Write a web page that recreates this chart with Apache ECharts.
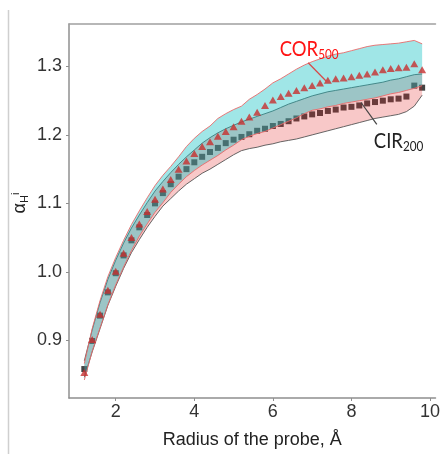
<!DOCTYPE html>
<html><head><meta charset="utf-8">
<script src="https://cdn.jsdelivr.net/npm/echarts@6/dist/echarts.min.js"></script>
<style>html,body{margin:0;padding:0;background:#fff}#c{width:443px;height:454px}</style>
</head><body><div id="c"></div>
<script>
const xs=[1.2,1.4,1.6,1.8,2.0,2.2,2.4,2.6,2.8,3.0,3.2,3.4,3.6,3.8,4.0,4.2,4.4,4.6,4.8,5.0,5.2,5.4,5.6,5.8,6.0,6.2,6.4,6.6,6.8,7.0,7.2,7.4,7.6,7.8,8.0,8.2,8.4,8.6,8.8,9.0,9.2,9.4,9.6,9.8];
const corMean=[0.853,0.901,0.938,0.973,1.001,1.027,1.050,1.070,1.088,1.106,
1.121,1.135,1.150,1.162,1.173,1.183,1.190,1.198,1.205,1.212,
1.220,1.226,1.233,1.243,1.251,1.256,1.261,1.265,1.269,1.272,
1.276,1.280,1.282,1.283,1.285,1.287,1.289,1.292,1.295,1.297,
1.298,1.299,1.304,1.295];
const cirMean=[0.858,0.899,0.936,0.970,0.998,1.024,1.046,1.065,1.083,1.100,
1.115,1.128,1.139,1.150,1.160,1.168,1.175,1.181,1.188,1.193,
1.197,1.201,1.206,1.209,1.213,1.216,1.220,1.224,1.227,1.230,
1.232,1.235,1.237,1.240,1.241,1.243,1.246,1.248,1.250,1.252,
1.253,1.256,1.272,1.269];
const corUpper=[0.866,0.917,0.958,0.993,1.021,1.046,1.069,1.089,1.108,1.126,
1.141,1.154,1.168,1.183,1.195,1.205,1.213,1.224,1.231,1.237,
1.242,1.252,1.259,1.267,1.276,1.282,1.289,1.296,1.302,1.307,
1.311,1.315,1.318,1.320,1.323,1.326,1.329,1.331,1.332,1.333,
1.334,1.336,1.338,1.333];
const corLower=[0.842,0.884,0.918,0.952,0.981,1.007,1.031,1.052,1.070,1.087,
1.101,1.116,1.128,1.139,1.148,1.156,1.163,1.170,1.178,1.185,
1.193,1.198,1.202,1.205,1.210,1.215,1.220,1.225,1.231,1.236,
1.238,1.241,1.243,1.246,1.248,1.250,1.252,1.254,1.257,1.260,
1.262,1.265,1.268,1.272];
const cirUpper=[0.870,0.915,0.955,0.989,1.017,1.042,1.064,1.083,1.101,1.118,
1.132,1.145,1.157,1.168,1.178,1.188,1.196,1.203,1.209,1.214,
1.219,1.223,1.227,1.231,1.235,1.240,1.245,1.249,1.253,1.257,
1.260,1.263,1.265,1.267,1.269,1.271,1.273,1.275,1.277,1.280,
1.282,1.285,1.288,1.289];
const cirLower=[0.846,0.883,0.917,0.951,0.979,1.005,1.028,1.047,1.065,1.081,
1.096,1.107,1.118,1.128,1.136,1.144,1.150,1.157,1.164,1.171,
1.177,1.180,1.182,1.185,1.187,1.190,1.192,1.194,1.197,1.200,
1.203,1.206,1.209,1.212,1.215,1.218,1.221,1.224,1.226,1.228,
1.230,1.234,1.242,1.258];
const xTicks=[2,4,6,8,10];
const yTicks=[0.9,1.0,1.1,1.2,1.3];
const xTitle='Radius of the probe, Å';
const corNote={main:'COR',sub:'500',textAt:[6.175,1.3446],from:[6.899,1.3054],to:[7.373,1.2777]};
const cirNote={main:'CIR',sub:'200',textAt:[8.570,1.2107],from:[8.245,1.2473],to:[8.646,1.2153]};

const pairs=a=>xs.map((x,i)=>[x,a[i]]);
const AX='#8f8f8f';
const FONT='Liberation Sans, Arial, sans-serif';
const chart=echarts.init(document.getElementById('c'),null,{renderer:'canvas'});
const xRange={min:0.81,max:10.14};

function bandSeries(upper,lower,fill,opacity,stroke,z){
  return {type:'custom',z:z,silent:true,clip:true,
    data:xs.map((x,i)=>[x,upper[i],lower[i]]),
    encode:{x:0,y:[1,2]},
    renderItem:function(params,api){
      if(params.dataIndex!==0) return null;
      const up=xs.map((x,i)=>api.coord([x,upper[i]]));
      const lo=xs.map((x,i)=>api.coord([x,lower[i]]));
      return {type:'group',children:[
        {type:'polygon',shape:{points:up.concat(lo.slice().reverse())},
         style:{fill:fill,opacity:opacity,stroke:null}},
        {type:'polyline',shape:{points:up},style:{fill:null,stroke:stroke,lineWidth:0.9}},
        {type:'polyline',shape:{points:lo},style:{fill:null,stroke:stroke,lineWidth:0.9}}
      ]};
    }};
}

chart.setOption({
  animation:false,
  grid:{left:69,right:0,top:24,bottom:54,containLabel:false},
  xAxis:[{type:'value',position:'bottom',min:xRange.min,max:xRange.max,
    axisLine:{show:true,onZero:false,lineStyle:{color:AX,width:1.5}},
    axisTick:{show:true,customValues:xTicks,length:3,lineStyle:{color:AX}},
    axisLabel:{show:true,customValues:xTicks,fontSize:18,color:'#333',margin:5,fontFamily:FONT},
    splitLine:{show:false},
    name:xTitle,nameLocation:'middle',nameGap:33,
    nameTextStyle:{fontSize:18,color:'#222',fontFamily:FONT}},
   {type:'value',position:'top',min:xRange.min,max:xRange.max,
    axisLine:{show:true,onZero:false,lineStyle:{color:'#a0a0a0',width:1.5}},
    axisTick:{show:false},axisLabel:{show:false},splitLine:{show:false}}],
  yAxis:{type:'value',min:0.8157,max:1.362,
    axisLine:{show:true,onZero:false,lineStyle:{color:AX,width:1.5}},
    axisTick:{show:true,customValues:yTicks,length:3,lineStyle:{color:AX}},
    axisLabel:{show:true,customValues:yTicks,fontSize:18,color:'#333',margin:7,fontFamily:FONT,
      formatter:v=>v.toFixed(1)},
    splitLine:{show:false}},
  series:[
    {type:'scatter',name:'CIR200 points',data:pairs(cirMean),symbol:'rect',symbolSize:6,
     itemStyle:{color:'#141414'},z:1},
    bandSeries(cirUpper,cirLower,'rgb(227,35,35)',0.25,'#555',2),
    bandSeries(corUpper,corLower,'rgb(18,192,194)',0.4,'#e86a6a',3),
    {type:'scatter',name:'COR500 points',data:pairs(corMean),symbol:'triangle',symbolSize:[8,7],
     itemStyle:{color:'#c8302f'},z:4}
  ]
});

function px(p){return chart.convertToPixel({xAxisIndex:0,yAxisIndex:0},p);}
function note(n,color,lineColor){
  const t=px(n.textAt),a=px(n.from),b=px(n.to);
  return [
    {type:'line',shape:{x1:a[0],y1:a[1],x2:b[0],y2:b[1]},style:{stroke:lineColor,lineWidth:1.2},z:10},
    {type:'text',x:t[0],y:t[1],scaleX:0.84,z:10,style:{
      text:'{a|'+n.main+'}{b|'+n.sub+'}',fill:color,textAlign:'left',textVerticalAlign:'top',
      rich:{a:{fontSize:22,fontFamily:'Lato, Open Sans, sans-serif',lineHeight:26,verticalAlign:'middle',fill:color},
            b:{fontSize:14,fontFamily:'Lato, Open Sans, sans-serif',lineHeight:14,verticalAlign:'bottom',fill:color}}}}
  ];
}
chart.setOption({graphic:[
  {type:'line',shape:{x1:8.5,y1:10,x2:8.5,y2:454},style:{stroke:'#cfcfcf',lineWidth:1.5}},
  {type:'text',x:20,y:203,rotation:Math.PI/2,style:{
    text:'{a|α}{b|H}{c|i}',textAlign:'center',textVerticalAlign:'middle',fill:'#222',
    rich:{a:{fontSize:18,fontFamily:FONT,lineHeight:20,verticalAlign:'middle'},
          b:{fontSize:11,fontFamily:FONT,lineHeight:20,verticalAlign:'bottom'},
          c:{fontSize:11,fontFamily:FONT,lineHeight:20,verticalAlign:'top'}}}},
  ...note(corNote,'#ff1414','#d84848'),
  ...note(cirNote,'#222','#444')
]});
</script></body></html>
